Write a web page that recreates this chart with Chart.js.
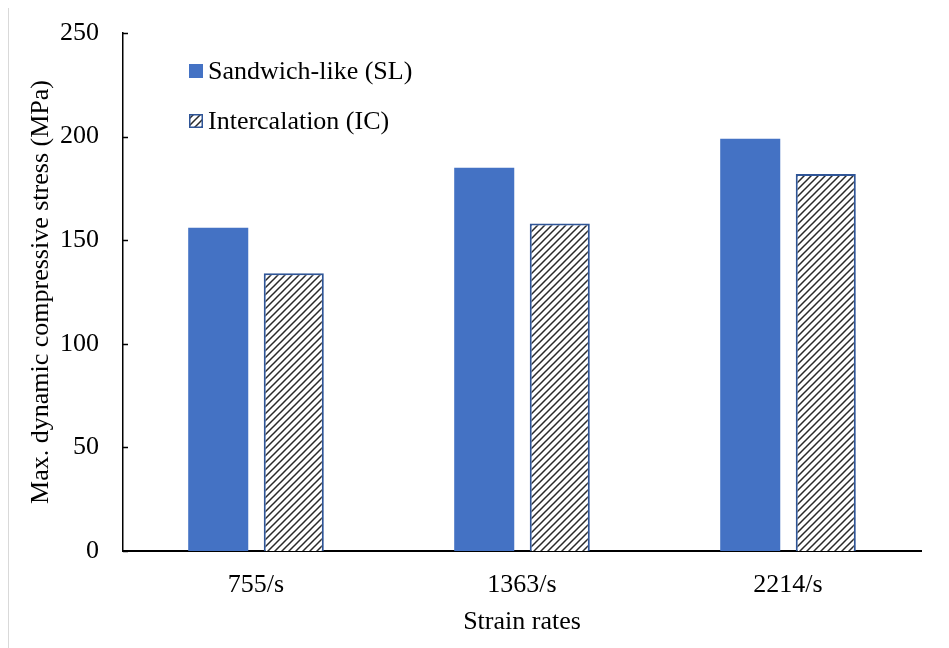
<!DOCTYPE html>
<html>
<head>
<meta charset="utf-8">
<script src="https://cdn.jsdelivr.net/npm/chart.js@4/dist/chart.umd.min.js"></script>
<style>
  html, body { margin: 0; padding: 0; background: #fff; }
  #wrap { position: relative; width: 949px; height: 648px; }
  #edge { position: absolute; left: 8px; top: 8px; width: 0; height: 640px; border-left: 1px solid #d9d9d9; }
  canvas { position: absolute; left: 0; top: 0; }
</style>
</head>
<body>
<div id="wrap">
  <div id="edge"></div>
  <canvas id="chart" width="949" height="648"></canvas>
</div>
<script>
// Strain-rate categories and peak stresses (MPa)
const categories = ['755/s', '1363/s', '2214/s'];
const sandwichLike = [156, 185, 199];
const intercalation = [134, 158, 182];
const yTicks = [0, 50, 100, 150, 200, 250];
const seriesNames = ['Sandwich-like (SL)', 'Intercalation (IC)'];

const SERIF = '"Liberation Serif", "Times New Roman", serif';
const FONT_SIZE = 26;
const BLUE = '#4472C4';
const EDGE_BLUE = '#2F5597';

// Upward diagonal hatch fill
function makeHatch() {
  const c = document.createElement('canvas');
  c.width = 7; c.height = 7;
  const g = c.getContext('2d');
  g.fillStyle = '#fff';
  g.fillRect(0, 0, 7, 7);
  g.strokeStyle = '#2a2a2a';
  g.lineWidth = 1.5;
  g.beginPath();
  for (let k = -7; k <= 14; k += 7) {
    g.moveTo(k - 1, 8);
    g.lineTo(k + 8, -1);
  }
  g.stroke();
  return g.createPattern(c, 'repeat');
}
const hatch = makeHatch();

// Inward tick marks on the value axis
const innerTicks = {
  id: 'innerTicks',
  afterDatasetsDraw(chart) {
    const y = chart.scales.y;
    const ctx = chart.ctx;
    ctx.save();
    ctx.strokeStyle = '#000';
    ctx.lineWidth = 1.5;
    y.ticks.forEach(t => {
      const py = Math.round(y.getPixelForValue(t.value)) + 0.5;
      ctx.beginPath();
      ctx.moveTo(y.right, py);
      ctx.lineTo(y.right + 5, py);
      ctx.stroke();
    });
    ctx.restore();
  }
};

// Legend drawn inside the plot area, stacked vertically
const insideLegend = {
  id: 'insideLegend',
  afterDraw(chart) {
    const ctx = chart.ctx;
    const area = chart.chartArea;
    ctx.save();
    ctx.font = FONT_SIZE + 'px ' + SERIF;
    ctx.textBaseline = 'middle';
    const x0 = area.left + 66;
    const rows = [area.top + 38, area.top + 88];
    const box = 14;
    chart.data.datasets.forEach((ds, i) => {
      const cy = rows[i];
      ctx.fillStyle = ds.backgroundColor;
      ctx.fillRect(x0, cy - box / 2, box, box);
      if (i === 1) {
        ctx.strokeStyle = ds.borderColor;
        ctx.lineWidth = 1.5;
        ctx.strokeRect(x0 + 0.75, cy - box / 2 + 0.75, box - 1.5, box - 1.5);
      }
      ctx.fillStyle = '#000';
      ctx.fillText(ds.label, x0 + 19, cy + 1);
    });
    ctx.restore();
  }
};

new Chart(document.getElementById('chart'), {
  type: 'bar',
  data: {
    labels: categories,
    datasets: [
      {
        label: seriesNames[0],
        data: sandwichLike,
        backgroundColor: BLUE,
        borderWidth: 0
      },
      {
        label: seriesNames[1],
        data: intercalation,
        backgroundColor: hatch,
        borderColor: EDGE_BLUE,
        borderWidth: 2
      }
    ]
  },
  options: {
    responsive: false,
    animation: false,
    devicePixelRatio: 1,
    layout: { padding: { top: 33, right: 28, left: 0, bottom: 0 } },
    datasets: {
      bar: { categoryPercentage: 0.568, barPercentage: 0.795 }
    },
    plugins: {
      legend: { display: false },
      tooltip: { enabled: false }
    },
    scales: {
      x: {
        grid: { display: false, drawTicks: false },
        border: { display: true, color: '#000', width: 2 },
        ticks: { color: '#000', padding: 19, font: { family: SERIF, size: FONT_SIZE } },
        title: {
          display: true, text: 'Strain rates', color: '#000',
          font: { family: SERIF, size: FONT_SIZE }, padding: { top: 6, bottom: 10 }
        },
        afterFit(scale) { scale.height = 97; }
      },
      y: {
        min: 0, max: 250,
        afterBuildTicks(scale) { scale.ticks = yTicks.map(v => ({ value: v })); },
        grid: { display: false, drawTicks: false },
        border: { display: true, color: '#000', width: 1.5 },
        ticks: { color: '#000', padding: 24, font: { family: SERIF, size: FONT_SIZE, lineHeight: 0.6 } },
        title: {
          display: true, text: 'Max. dynamic compressive stress (MPa)', color: '#000',
          font: { family: SERIF, size: FONT_SIZE }, padding: { top: 26, bottom: 10 }
        },
        afterFit(scale) { scale.width = 123; }
      }
    }
  },
  plugins: [innerTicks, insideLegend]
});
</script>
</body>
</html>
